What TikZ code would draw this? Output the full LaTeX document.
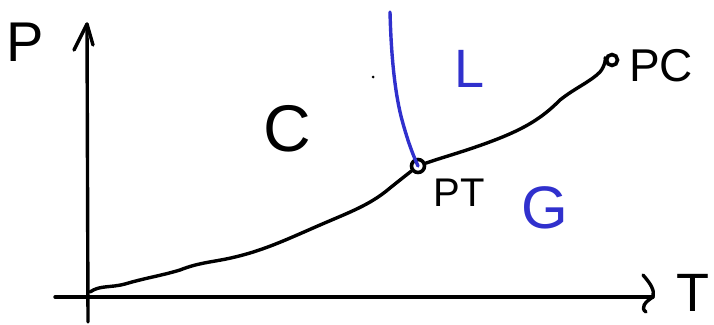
\documentclass[tikz,border=0pt]{standalone}
\usepackage{fontspec}
\setmainfont{Liberation Sans}
\begin{document}
\begin{tikzpicture}[x=1pt,y=-1pt,
  ink/.style={line width=3.4pt,line cap=round,line join=round},
  blueink/.style={ink,draw={rgb,255:red,48;green,48;blue,205}},
  lbl/.style={inner sep=0pt,anchor=center},
  bluetext/.style={lbl,text={rgb,255:red,48;green,48;blue,205}},
  tpoint/.style={circle,draw,line width=3.6pt,inner sep=0pt}]
\useasboundingbox (0,0) rectangle (714,324);
% axes
\coordinate (yb) at (88,322);
\coordinate (yt) at (87,24);
\coordinate (xl) at (55,297);
\coordinate (xr) at (653,297);
\draw[ink] (yb) -- (yt);
\draw[ink] (74,50) -- (yt) -- (93,45);
\draw[ink] (xl) -- (xr);
\draw[ink] (643,275) .. controls (650,283) and (655,290) .. (653,297)
  .. controls (645,302) and (640,308) .. (646,312);
% points
\node[tpoint,minimum size=13pt] (PT) at (418,166) {};
\node[tpoint,minimum size=11pt] (PC) at (612,60) {};
% curves
\draw[ink] (90,292) .. controls (100,285) and (110,288) .. (125,284)
  .. controls (145,278) and (160,276) .. (180,270)
  .. controls (200,262) and (215,262) .. (235,257)
  .. controls (265,250) and (290,238) .. (320,225)
  .. controls (350,212) and (370,205) .. (390,188)
  .. controls (400,180) and (405,176) .. (PT);
\draw[ink] (PT) .. controls (440,158) and (470,150) .. (500,138)
  .. controls (530,126) and (545,115) .. (560,100)
  .. controls (575,88) and (590,82) .. (600,72)
  .. controls (605,66) and (606,58) .. (PC);
\draw[blueink] (390,12) .. controls (391,50) and (394,90) .. (402,120)
  .. controls (408,142) and (413,155) .. (PT.center);
\fill (373,77) circle (1.5pt);
% labels
\node[lbl,font=\fontsize{56}{56}\selectfont] (P) at (25,42) {P};
\node[lbl,font=\fontsize{54}{54}\selectfont] (T) at (693,293) {T};
\node[lbl,font=\fontsize{66}{66}\selectfont] (C) at (287,129) {C};
\node[bluetext,font=\fontsize{54}{54}\selectfont] (L) at (470,69) {L};
\node[bluetext,font=\fontsize{60}{60}\selectfont] (G) at (545,208) {G};
\node[lbl,font=\fontsize{40}{40}\selectfont] (PTl) at (459,193) {PT};
\node[lbl,font=\fontsize{46}{46}\selectfont] (PCl) at (661,66) {PC};
\end{tikzpicture}
\end{document}
